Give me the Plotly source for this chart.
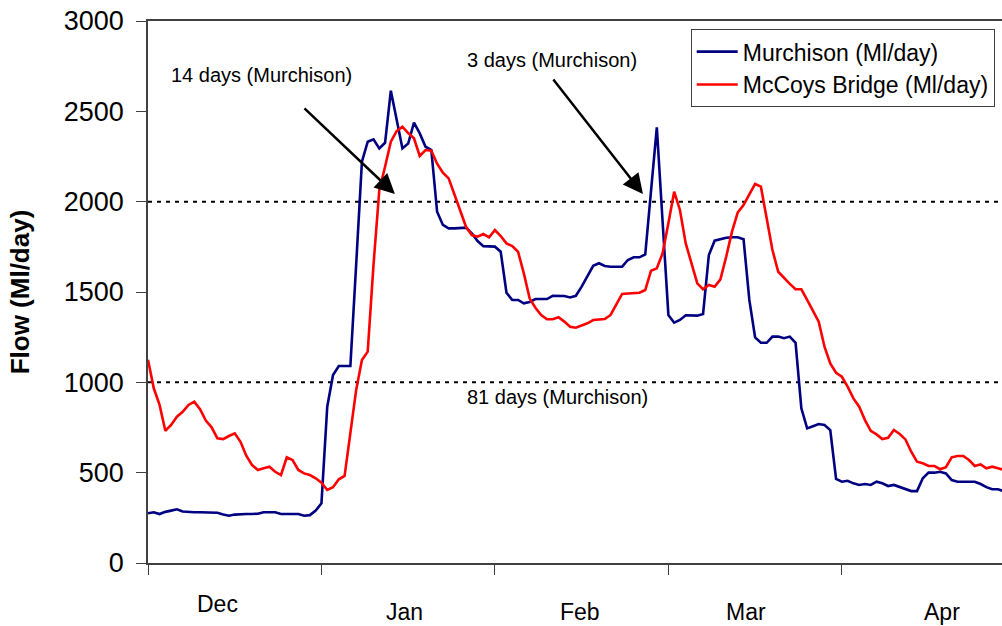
import plotly.graph_objects as go

# Daily flows from 1 Dec, one value per day (Ml/day)
murchison = [
    275, 281, 271, 283, 290, 297, 285, 281, 281, 281,
    281, 281, 278, 268, 262, 268, 271, 271, 271, 273,
    281, 281, 281, 271, 271, 271, 271, 262, 265, 290,
    330, 865, 1040, 1090, 1090, 1090, 1650, 2221, 2332, 2345,
    2295, 2326, 2614, 2455, 2295, 2322, 2437, 2378, 2304, 2286,
    1944, 1871, 1852, 1852, 1852, 1856, 1825, 1782, 1754, 1754,
    1751, 1723, 1496, 1456, 1456, 1437, 1445, 1461, 1461, 1461,
    1479, 1479, 1478, 1470, 1479, 1530, 1590, 1645, 1659, 1644,
    1640, 1640, 1640, 1677, 1692, 1692, 1708, 2060, 2411, 1890,
    1373, 1330, 1345, 1371, 1370, 1369, 1378, 1705, 1784, 1792,
    1800, 1803, 1803, 1792, 1456, 1249, 1219, 1219, 1253, 1253,
    1244, 1253, 1219, 856, 745, 757, 769, 764, 736, 465,
    450, 455, 441, 432, 437, 432, 450, 441, 426, 432,
    422, 410, 398, 398, 469, 500, 500, 505, 496, 459,
    450, 450, 450, 450, 437, 420, 408, 408, 398,
]
mccoys = [
    1125, 967, 875, 732, 764, 810, 837, 875, 893, 851,
    788, 751, 690, 686, 703, 718, 671, 594, 542, 515,
    524, 533, 505, 487, 585, 570, 515, 496, 487, 469,
    444, 404, 419, 463, 482, 720, 957, 1124, 1170, 1650,
    2064, 2193, 2332, 2390, 2415, 2380, 2351, 2253, 2286, 2282,
    2210, 2160, 2129, 2040, 1950, 1861, 1815, 1806, 1821, 1803,
    1843, 1810, 1769, 1754, 1723, 1603, 1465, 1413, 1373, 1349,
    1349, 1360, 1336, 1308, 1302, 1315, 1327, 1345, 1348, 1350,
    1373, 1433, 1489, 1492, 1494, 1496, 1511, 1618, 1631, 1714,
    1880, 2055, 1954, 1769, 1659, 1548, 1515, 1539, 1529, 1570,
    1695, 1834, 1941, 1981, 2040, 2098, 2083, 1917, 1732, 1612,
    1576, 1545, 1515, 1515, 1456, 1400, 1336, 1197, 1105, 1053,
    1031, 976, 911, 865, 791, 732, 712, 686, 693, 736,
    714, 684, 616, 561, 552, 537, 537, 519, 530, 585,
    592, 592, 570, 537, 546, 524, 533, 524, 515,
]
days = list(range(len(murchison)))

months = ["Dec", "Jan", "Feb", "Mar", "Apr"]
month_pos = [12.1, 44.4, 74.7, 103.4, 137.4]
month_y = [-0.0756, -0.0904, -0.0904, -0.0904, -0.0904]
thresholds = [1000, 2000]
tick_days = [0, 30, 60, 90, 120]

font = "Arial, Liberation Sans, sans-serif"

fig = go.Figure()
fig.add_trace(go.Scatter(x=days, y=murchison, mode="lines", name="Murchison (Ml/day)",
                         line=dict(color="#000080", width=2.6)))
fig.add_trace(go.Scatter(x=days, y=mccoys, mode="lines", name="McCoys Bridge (Ml/day)",
                         line=dict(color="#ff0000", width=2.6)))

for t in thresholds:
    fig.add_shape(type="line", xref="paper", x0=0, x1=1, yref="y", y0=t, y1=t,
                  line=dict(color="black", width=2, dash="4px,5px"), layer="below")

# month labels under the axis
for m, xp, yp in zip(months, month_pos, month_y):
    fig.add_annotation(x=xp, y=yp, xref="x", yref="paper", text=m, showarrow=False,
                       yanchor="middle", font=dict(size=23, color="black", family=font))

# threshold notes and arrows
notes = [("14 days (Murchison)", 3.7, 2701), ("3 days (Murchison)", 54.9, 2784),
         ("81 days (Murchison)", 54.9, 919)]
for txt, xp, yp in notes:
    fig.add_annotation(x=xp, y=yp, text=txt, showarrow=False, xanchor="left",
                       yanchor="middle", font=dict(size=20, color="black", family=font))
fig.add_annotation(x=42.7, y=2042, ax=26.8, ay=2524, axref="x", ayref="y", text="",
                   showarrow=True, arrowhead=2, arrowsize=1.6, arrowwidth=2.5, arrowcolor="black")
fig.add_annotation(x=85.6, y=2042, ax=69.9, ay=2684, axref="x", ayref="y", text="",
                   showarrow=True, arrowhead=2, arrowsize=1.6, arrowwidth=2.5, arrowcolor="black")

fig.update_layout(
    width=1002, height=626,
    margin=dict(l=148, r=0, t=21, b=63, autoexpand=False),
    paper_bgcolor="white", plot_bgcolor="white",
    font=dict(family=font, color="black"),
    legend=dict(x=0.6355, y=0.985, xanchor="left", yanchor="top", itemwidth=41,
                bgcolor="white", bordercolor="#404040", borderwidth=1,
                font=dict(size=23, color="black", family=font)),
    xaxis=dict(range=[0, 147.7], tickvals=tick_days, showticklabels=False,
               ticks="outside", ticklen=10, tickcolor="#404040",
               showline=True, linecolor="#404040", linewidth=1.5, mirror=True,
               showgrid=False, zeroline=False),
    yaxis=dict(range=[0, 3000], dtick=500, ticks="outside", ticklen=10,
               tickcolor="#404040", showline=True, linecolor="#404040", linewidth=1.5,
               showgrid=False, zeroline=False, ticklabelstandoff=7,
               ticklabeloverflow="allow",
               tickfont=dict(size=27, color="black", family=font),
               title=dict(text="<b>Flow (Ml/day)</b>", standoff=27,
                          font=dict(size=26, color="black", family=font))),
    showlegend=True,
)

# drop the default page margin so the figure fills the window
fig.write_html("out.html", config={"displayModeBar": False},
               post_script="document.body.style.margin='0';")
